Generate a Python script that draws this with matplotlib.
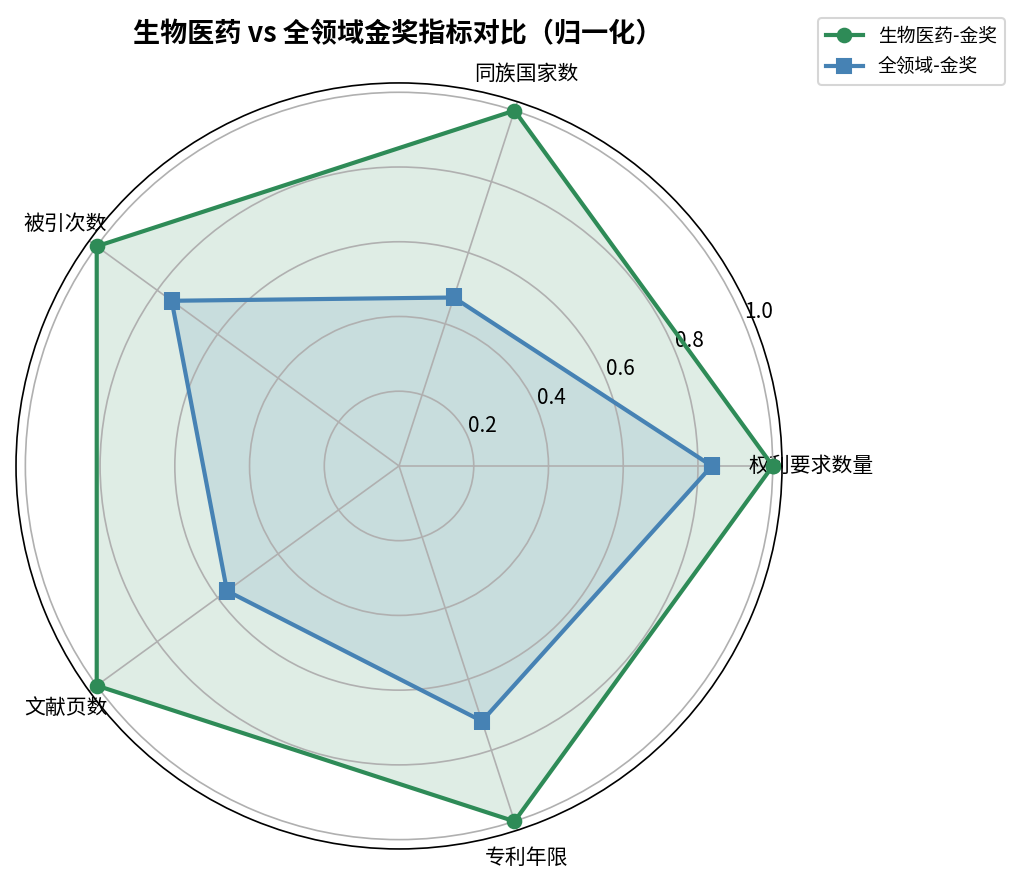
import numpy as np
import matplotlib
matplotlib.use('Agg')
import matplotlib.pyplot as plt

plt.rcParams['font.family'] = ['Noto Sans CJK SC', 'DejaVu Sans']

# ---------------------------------------------------------------------------
# Data (normalised)
# ---------------------------------------------------------------------------
categories = ['权利要求数量', '同族国家数', '被引次数', '文献页数', '专利年限']
bio_gold = [1.0, 1.0, 1.0, 1.0, 1.0]
all_gold = [0.837, 0.474, 0.752, 0.569, 0.718]
r_ticks = [0.2, 0.4, 0.6, 0.8, 1.0]

n = len(categories)
angles = np.linspace(0, 2 * np.pi, n, endpoint=False).tolist()
angles_c = angles + angles[:1]
bio_c = bio_gold + bio_gold[:1]
all_c = all_gold + all_gold[:1]

fig = plt.figure(figsize=(6.8, 886 / 150), dpi=150)
ax = fig.add_axes([0.0157, 0.0418, 0.751, 0.8646], projection='polar')

ax.plot(angles_c, bio_c, '-o', color='#2E8B57', lw=2, ms=6.5, label='生物医药-金奖')
ax.fill(angles_c, bio_c, color='#2E8B57', alpha=0.15)
ax.plot(angles_c, all_c, '-s', color='#4682B4', lw=2, ms=6.5, label='全领域-金奖')
ax.fill(angles_c, all_c, color='#4682B4', alpha=0.15)

ax.set_xticks(angles)
ax.set_xticklabels(categories, fontsize=10)
ax.set_yticks(r_ticks)
ax.set_yticklabels([f'{v:.1f}' for v in r_ticks], fontsize=10)
ax.set_ylim(0, 1.025)
ax.grid(True, color='#b0b0b0', lw=0.8)

fig.text(0.39, 0.961, '生物医药 vs 全领域金奖指标对比（归一化）',
         ha='center', va='center', fontsize=13, fontweight='bold')
ax.legend(loc='upper right', bbox_to_anchor=(0.994, 0.99),
          bbox_transform=fig.transFigure, fontsize=9)

fig.savefig('out.png', dpi=150)
